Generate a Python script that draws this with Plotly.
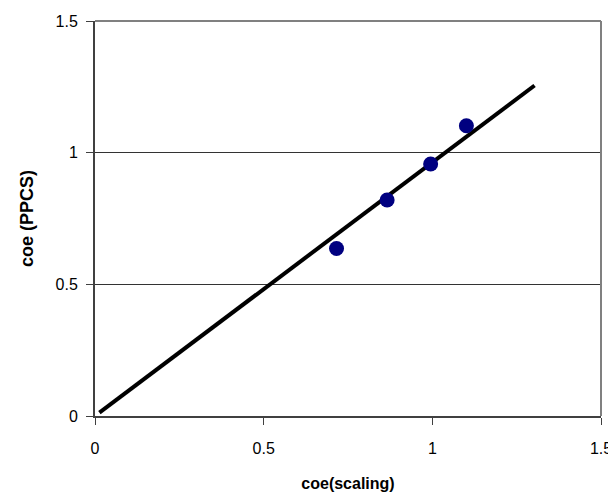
import plotly.graph_objects as go

# data
coe_scaling = [0.716, 0.866, 0.995, 1.101]
coe_ppcs = [0.636, 0.820, 0.957, 1.102]

fit_x = [0.013, 1.303]
fit_y = [0.013, 1.255]

tick_vals = [0, 0.5, 1, 1.5]
tick_text = ["0", "0.5", "1", "1.5"]

font = "Liberation Sans, Arial, sans-serif"

fig = go.Figure()

fig.add_trace(
    go.Scatter(
        x=fit_x,
        y=fit_y,
        mode="lines",
        line=dict(color="black", width=4),
        hoverinfo="skip",
    )
)

fig.add_trace(
    go.Scatter(
        x=coe_scaling,
        y=coe_ppcs,
        mode="markers",
        marker=dict(color="#000080", size=15, line=dict(width=0)),
    )
)

fig.update_xaxes(
    range=[0, 1.5],
    tickvals=tick_vals,
    ticktext=tick_text,
    showgrid=False,
    zeroline=False,
    showline=True,
    linecolor="#404040",
    linewidth=2,
    ticks="outside",
    ticklen=7,
    tickwidth=1,
    tickcolor="#404040",
    ticklabelstandoff=10,
    ticklabeloverflow="allow",
    automargin=False,
    tickfont=dict(size=16, color="black", family=font),
    title=dict(text="<b>coe(scaling)</b>", font=dict(size=16, color="black", family=font), standoff=22),
)

fig.update_yaxes(
    range=[0, 1.5],
    tickvals=tick_vals,
    ticktext=tick_text,
    showgrid=True,
    gridcolor="#333333",
    gridwidth=1,
    zeroline=False,
    showline=True,
    linecolor="#404040",
    linewidth=2,
    ticks="outside",
    ticklen=7,
    tickwidth=1,
    tickcolor="#404040",
    ticklabelstandoff=5,
    automargin=False,
    tickfont=dict(size=16, color="black", family=font),
    title=dict(text="<b>coe (PPCS)</b>", font=dict(size=18, color="black", family=font), standoff=17),
)

# grey frame on top and right, like the Excel plot area
fig.add_shape(type="line", xref="paper", yref="paper", x0=0, x1=1, y0=1, y1=1,
              line=dict(color="#808080", width=2))
fig.add_shape(type="line", xref="paper", yref="paper", x0=1, x1=1, y0=0, y1=1,
              line=dict(color="#808080", width=2))

# page body adds 8px, so the figure is sized to fit the window
fig.update_layout(
    width=608,
    height=489,
    margin=dict(l=87, r=15, t=13, b=81),
    plot_bgcolor="white",
    paper_bgcolor="white",
    showlegend=False,
    font=dict(family=font, color="black"),
)

fig.write_html("out.html")
